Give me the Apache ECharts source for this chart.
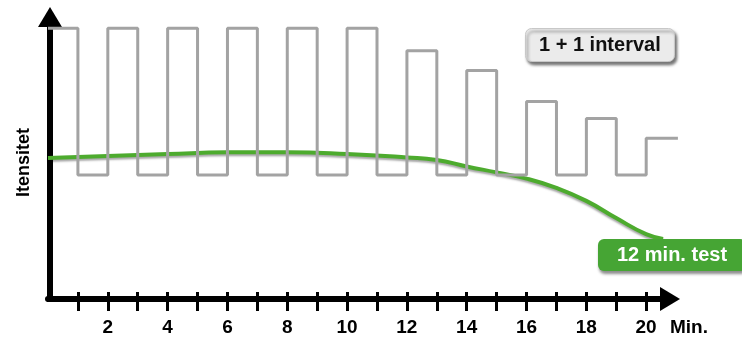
<!DOCTYPE html>
<html><head><meta charset="utf-8">
<script src="https://cdn.jsdelivr.net/npm/echarts@6/dist/echarts.min.js"></script>
<style>html,body{margin:0;padding:0;background:#fff}#c{width:742px;height:338px}</style>
</head><body><div id="c"></div>
<script>
// ---- data ----
const intervalMinutes = [0,1,2,3,4,5,6,7,8,9,10,11,12,13,14,15,16,17,18,19,20,21.06];
const intervalValues  = [96,44,96,44,96,44,96,44,96,44,96,44,88,44,81,44,70,44,64,44,57,57];
const testMinutes = [0,2,4,6,8,10,12,13,14,15,16,17,18,19,20,20.57];
const testValues  = [50,50.7,51.4,52,52,51.4,50.2,49.3,47,44.9,42.7,39.4,34.8,28.7,23,21.3];
const tickMinutes  = [1,2,3,4,5,6,7,8,9,10,11,12,13,14,15,16,17,18,19,20];
const labelMinutes = [2,4,6,8,10,12,14,16,18,20];
const xName = 'Min.';
const yName = 'Itensitet';
const intervalLabel = '1 + 1 interval';
const testLabel = '12 min. test';

const FONT = '"Liberation Sans", Arial, sans-serif';
const chart = echarts.init(document.getElementById('c'), null, {renderer: 'canvas'});
chart.setOption({
  animation: false,
  backgroundColor: '#fff',
  title: [
    {
      text: intervalLabel, left: 525, top: 28, padding: [7, 14],
      backgroundColor: '#ebebeb', borderColor: '#c8c8c8', borderWidth: 1, borderRadius: 6,
      shadowColor: 'rgba(0,0,0,0.55)', shadowBlur: 3, shadowOffsetX: 2, shadowOffsetY: 3,
      textStyle: {fontFamily: FONT, fontSize: 20, fontWeight: 'bold', color: '#111', lineHeight: 20}
    },
    {
      text: testLabel, left: 598, top: 239, padding: [6, 19],
      backgroundColor: '#46a534', borderRadius: 6,
      shadowColor: 'rgba(0,0,0,0.45)', shadowBlur: 3, shadowOffsetX: 1, shadowOffsetY: 3,
      textStyle: {fontFamily: FONT, fontSize: 20, fontWeight: 'bold', color: '#fff', lineHeight: 20}
    }
  ],
  graphic: [
    {type: 'text', left: 670, top: 318, z: 10,
     style: {text: xName, fontFamily: FONT, fontSize: 19, fontWeight: 'bold', fill: '#000'}}
  ],
  grid: [
    {left: 48, right: 72, top: 17, bottom: 39, containLabel: false},
    // same scale as the first grid, only wider so the last step is not cut
    {left: 48, right: 62, top: 17, bottom: 39, containLabel: false}
  ],
  xAxis: [
    {
      type: 'value', min: 0, max: 20.8, position: 'bottom', gridIndex: 0,
      splitLine: {show: false}, axisTick: {show: false},
      axisLine: {show: true, onZero: false, symbol: ['none', 'triangle'], symbolSize: [24, 20],
        lineStyle: {color: '#000', width: 6}},
      axisLabel: {customValues: labelMinutes, margin: 19, color: '#000', fontFamily: FONT, fontSize: 19, fontWeight: 'bold'}
    },
    {
      type: 'value', min: 0, max: 20.8, position: 'bottom', offset: -7, gridIndex: 0,
      splitLine: {show: false}, axisLine: {show: false}, axisLabel: {show: false},
      axisTick: {show: true, customValues: tickMinutes, length: 19, lineStyle: {color: '#000', width: 3}}
    },
    {
      type: 'value', min: 0, max: 21.13, gridIndex: 1, show: false
    }
  ],
  yAxis: [
    {
      type: 'value', min: 0, max: 100, offset: -2, gridIndex: 0,
      splitLine: {show: false}, axisTick: {show: false}, axisLabel: {show: false},
      axisLine: {show: true, onZero: false, symbol: ['none', 'triangle'], symbolSize: [24, 20],
        lineStyle: {color: '#000', width: 6, cap: 'square'}},
      name: yName, nameLocation: 'middle', nameRotate: 90, nameGap: 17,
      nameTextStyle: {fontFamily: FONT, fontSize: 18, fontWeight: 'bold', color: '#000', padding: [0, 9, 0, 0]}
    },
    {
      type: 'value', min: 0, max: 100, gridIndex: 1, show: false
    }
  ],
  series: [
    {
      name: testLabel, type: 'line', xAxisIndex: 0, yAxisIndex: 0, smooth: 0.5, symbol: 'none', z: 2, clip: false,
      data: testMinutes.map((m, i) => [m, testValues[i]]),
      lineStyle: {color: '#4dab2e', width: 4, shadowColor: 'rgba(0,0,0,0.35)', shadowBlur: 2, shadowOffsetY: 2}
    },
    {
      name: intervalLabel, type: 'line', xAxisIndex: 2, yAxisIndex: 1, step: 'end', symbol: 'none', z: 3, clip: false,
      data: intervalMinutes.map((m, i) => [m, intervalValues[i]]),
      lineStyle: {color: '#a3a3a3', width: 3}
    }
  ]
});
</script>
</body></html>
